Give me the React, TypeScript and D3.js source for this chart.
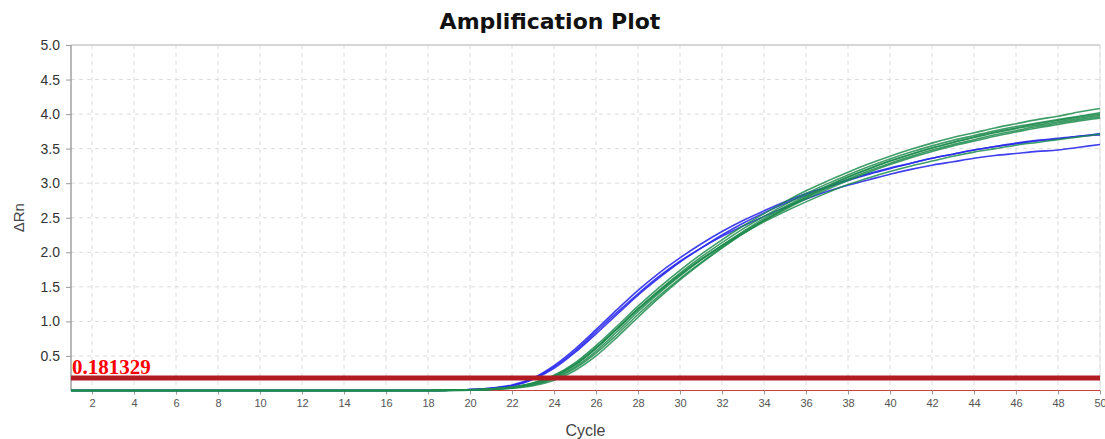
import { useEffect, useRef } from 'react'
import * as d3 from 'd3'

const cycles = [
  1, 2, 3, 4, 5, 6, 7, 8, 9, 10, 11, 12, 13, 14, 15, 16, 17, 18, 19, 20, 21, 22, 23, 24, 25,
  26, 27, 28, 29, 30, 31, 32, 33, 34, 35, 36, 37, 38, 39, 40, 41, 42, 43, 44, 45, 46, 47, 48, 49, 50,
]

// blue wells
const blue1 = [0, 0, 0, 0, 0, 0, 0, 0, 0, 0, 0, 0, 0, 0, 0, 0, 0, 0, 0.005, 0.015, 0.035, 0.08, 0.18, 0.36, 0.6, 0.88, 1.17, 1.45, 1.7, 1.92, 2.12, 2.3, 2.46, 2.6, 2.73, 2.85, 2.95, 3.05, 3.14, 3.22, 3.29, 3.36, 3.42, 3.48, 3.53, 3.58, 3.62, 3.65, 3.68, 3.72]
const blue2 = [0, 0, 0, 0, 0, 0, 0, 0, 0, 0, 0, 0, 0, 0, 0, 0, 0, 0, 0.004, 0.012, 0.03, 0.07, 0.16, 0.32, 0.55, 0.82, 1.1, 1.38, 1.63, 1.86, 2.06, 2.25, 2.42, 2.57, 2.71, 2.83, 2.94, 3.04, 3.13, 3.21, 3.29, 3.36, 3.42, 3.48, 3.53, 3.57, 3.61, 3.64, 3.68, 3.7]
const blue3 = [0, 0, 0, 0, 0, 0, 0, 0, 0, 0, 0, 0, 0, 0, 0, 0, 0, 0, 0.004, 0.012, 0.03, 0.07, 0.17, 0.34, 0.57, 0.85, 1.13, 1.4, 1.65, 1.87, 2.06, 2.23, 2.38, 2.52, 2.65, 2.77, 2.88, 2.97, 3.05, 3.13, 3.2, 3.26, 3.31, 3.36, 3.4, 3.43, 3.46, 3.48, 3.52, 3.56]

// green wells
const green1 = [0, 0, 0, 0, 0, 0, 0, 0, 0, 0, 0, 0, 0, 0, 0, 0, 0, 0, 0.003, 0.01, 0.025, 0.05, 0.11, 0.22, 0.4, 0.65, 0.93, 1.22, 1.49, 1.74, 1.97, 2.18, 2.38, 2.56, 2.73, 2.89, 3.03, 3.16, 3.28, 3.39, 3.49, 3.58, 3.66, 3.73, 3.8, 3.86, 3.92, 3.97, 4.03, 4.08]
const green2 = [0, 0, 0, 0, 0, 0, 0, 0, 0, 0, 0, 0, 0, 0, 0, 0, 0, 0, 0.003, 0.008, 0.02, 0.045, 0.1, 0.2, 0.37, 0.61, 0.89, 1.18, 1.45, 1.7, 1.93, 2.14, 2.34, 2.52, 2.69, 2.85, 2.99, 3.12, 3.24, 3.35, 3.45, 3.54, 3.62, 3.69, 3.76, 3.82, 3.87, 3.92, 3.97, 4.02]
const green3 = [0, 0, 0, 0, 0, 0, 0, 0, 0, 0, 0, 0, 0, 0, 0, 0, 0, 0, 0.002, 0.007, 0.018, 0.04, 0.09, 0.18, 0.34, 0.57, 0.85, 1.14, 1.41, 1.66, 1.89, 2.1, 2.3, 2.49, 2.66, 2.82, 2.96, 3.09, 3.21, 3.32, 3.42, 3.51, 3.59, 3.66, 3.73, 3.79, 3.84, 3.89, 3.94, 3.98]
const green4 = [0, 0, 0, 0, 0, 0, 0, 0, 0, 0, 0, 0, 0, 0, 0, 0, 0, 0, 0.002, 0.006, 0.016, 0.036, 0.08, 0.17, 0.32, 0.54, 0.81, 1.1, 1.37, 1.62, 1.85, 2.07, 2.27, 2.46, 2.63, 2.79, 2.93, 3.06, 3.18, 3.29, 3.39, 3.48, 3.56, 3.63, 3.7, 3.76, 3.82, 3.87, 3.92, 3.96]
const green5 = [0, 0, 0, 0, 0, 0, 0, 0, 0, 0, 0, 0, 0, 0, 0, 0, 0, 0, 0.003, 0.009, 0.022, 0.05, 0.11, 0.21, 0.38, 0.62, 0.9, 1.18, 1.44, 1.68, 1.9, 2.1, 2.29, 2.46, 2.62, 2.77, 2.91, 3.04, 3.16, 3.27, 3.37, 3.46, 3.54, 3.61, 3.68, 3.74, 3.8, 3.85, 3.9, 3.94]
const green6 = [0, 0, 0, 0, 0, 0, 0, 0, 0, 0, 0, 0, 0, 0, 0, 0, 0, 0, 0.003, 0.009, 0.022, 0.048, 0.1, 0.2, 0.37, 0.61, 0.89, 1.17, 1.43, 1.67, 1.89, 2.09, 2.27, 2.44, 2.59, 2.73, 2.86, 2.98, 3.08, 3.17, 3.25, 3.32, 3.39, 3.45, 3.5, 3.55, 3.59, 3.63, 3.67, 3.71]
const green7 = [0, 0, 0, 0, 0, 0, 0, 0, 0, 0, 0, 0, 0, 0, 0, 0, 0, 0, 0.002, 0.005, 0.014, 0.032, 0.07, 0.15, 0.29, 0.5, 0.77, 1.06, 1.34, 1.6, 1.84, 2.06, 2.27, 2.46, 2.64, 2.8, 2.95, 3.09, 3.21, 3.32, 3.42, 3.51, 3.59, 3.67, 3.74, 3.8, 3.86, 3.91, 3.96, 4.0]

const blueSeries = [blue1, blue2, blue3]
const greenSeries = [green1, green2, green3, green4, green5, green6, green7]

const xTicks = [2, 4, 6, 8, 10, 12, 14, 16, 18, 20, 22, 24, 26, 28, 30, 32, 34, 36, 38, 40, 42, 44, 46, 48, 50]
const yTicks = [0.5, 1.0, 1.5, 2.0, 2.5, 3.0, 3.5, 4.0, 4.5, 5.0]
const threshold = 0.181329

export default function App() {
  const ref = useRef<SVGSVGElement>(null)

  useEffect(() => {
    document.body.style.margin = '0'
    if (!ref.current) return
    const svg = d3.select(ref.current)
    svg.selectAll('*').remove()

    const width = 1105
    const height = 439
    const left = 71
    const right = 1100
    const top = 45
    const bottom = 390.5

    const x = d3.scaleLinear().domain([1, 50]).range([left, right])
    const y = d3.scaleLinear().domain([0, 5]).range([bottom, top])

    svg.append('rect').attr('width', width).attr('height', height).attr('fill', '#fff')

    // grid
    const grid = svg.append('g').attr('stroke', '#dcdcdc').attr('stroke-dasharray', '4,4').attr('stroke-width', 1)
    grid.selectAll('line.v')
      .data(xTicks)
      .enter()
      .append('line')
      .attr('x1', d => x(d)).attr('x2', d => x(d))
      .attr('y1', top).attr('y2', bottom)
    grid.selectAll('line.h')
      .data(yTicks.slice(0, -1))
      .enter()
      .append('line')
      .attr('x1', left).attr('x2', right)
      .attr('y1', d => y(d)).attr('y2', d => y(d))

    // frame
    svg.append('line').attr('x1', left).attr('x2', right).attr('y1', top).attr('y2', top)
      .attr('stroke', '#c8c8c8').attr('stroke-width', 1.5)
    svg.append('line').attr('x1', right).attr('x2', right).attr('y1', top).attr('y2', bottom)
      .attr('stroke', '#e0e0e0').attr('stroke-width', 1)
    svg.append('line').attr('x1', left).attr('x2', left).attr('y1', top).attr('y2', bottom)
      .attr('stroke', '#a0a0a0').attr('stroke-width', 1.5)

    // baseline (thin red)
    svg.append('line').attr('x1', left).attr('x2', right).attr('y1', y(0)).attr('y2', y(0))
      .attr('stroke', '#c84040').attr('stroke-width', 1.2)

    // y axis
    const yAxis = d3.axisLeft(y).tickValues(yTicks).tickFormat(d3.format('.1f')).tickSize(5).tickPadding(6)
    const yg = svg.append('g').attr('transform', `translate(${left},0)`).call(yAxis)
    yg.select('.domain').remove()
    yg.selectAll('line').attr('stroke', '#999')
    yg.selectAll('text').attr('fill', '#333').style('font-family', 'Liberation Sans, Arial, sans-serif').style('font-size', '14px')

    // x axis
    const xAxis = d3.axisBottom(x).tickValues(xTicks).tickFormat(d3.format('d')).tickSize(4).tickPadding(5)
    const xg = svg.append('g').attr('transform', `translate(0,${bottom})`).call(xAxis)
    xg.select('.domain').remove()
    xg.selectAll('line').attr('stroke', '#999')
    xg.selectAll('text').attr('fill', '#555').style('font-family', 'Liberation Sans, Arial, sans-serif').style('font-size', '11px')

    // curves
    const line = d3.line<number>()
      .x((_, i) => x(cycles[i]))
      .y(d => y(d))
      .curve(d3.curveMonotoneX)

    svg.append('g').selectAll('path')
      .data(blueSeries)
      .enter()
      .append('path')
      .attr('d', d => line(d))
      .attr('fill', 'none')
      .attr('stroke', '#2a2aee')
      .attr('stroke-width', 1.6)
      .attr('stroke-opacity', 0.9)

    svg.append('g').selectAll('path')
      .data(greenSeries)
      .enter()
      .append('path')
      .attr('d', d => line(d))
      .attr('fill', 'none')
      .attr('stroke', '#1f8c4e')
      .attr('stroke-width', 1.6)
      .attr('stroke-opacity', 0.85)

    // threshold
    svg.append('line').attr('x1', left).attr('x2', right).attr('y1', y(threshold)).attr('y2', y(threshold))
      .attr('stroke', '#b31b22').attr('stroke-width', 5)
    svg.append('text')
      .attr('x', left + 1).attr('y', y(threshold) - 4)
      .text(String(threshold))
      .attr('fill', '#ff0000')
      .style('font-family', 'Liberation Serif, Times New Roman, serif')
      .style('font-weight', 'bold')
      .style('font-size', '21px')

    // titles
    svg.append('text').attr('x', 550).attr('y', 29).attr('text-anchor', 'middle')
      .text('Amplification Plot')
      .attr('fill', '#111')
      .style('font-family', 'DejaVu Sans, Verdana, sans-serif')
      .style('font-weight', 'bold')
      .style('font-size', '22px')
    svg.append('text').attr('x', (left + right) / 2).attr('y', 436).attr('text-anchor', 'middle')
      .text('Cycle')
      .attr('fill', '#444')
      .style('font-family', 'Liberation Sans, Arial, sans-serif')
      .style('font-size', '16px')
    svg.append('text')
      .attr('transform', `translate(24,${(top + bottom) / 2}) rotate(-90)`)
      .attr('text-anchor', 'middle')
      .text('ΔRn')
      .attr('fill', '#444')
      .style('font-family', 'Liberation Sans, Arial, sans-serif')
      .style('font-size', '15px')
  }, [])

  return <svg ref={ref} width="1105" height="439" style={{ display: 'block' }}></svg>
}
